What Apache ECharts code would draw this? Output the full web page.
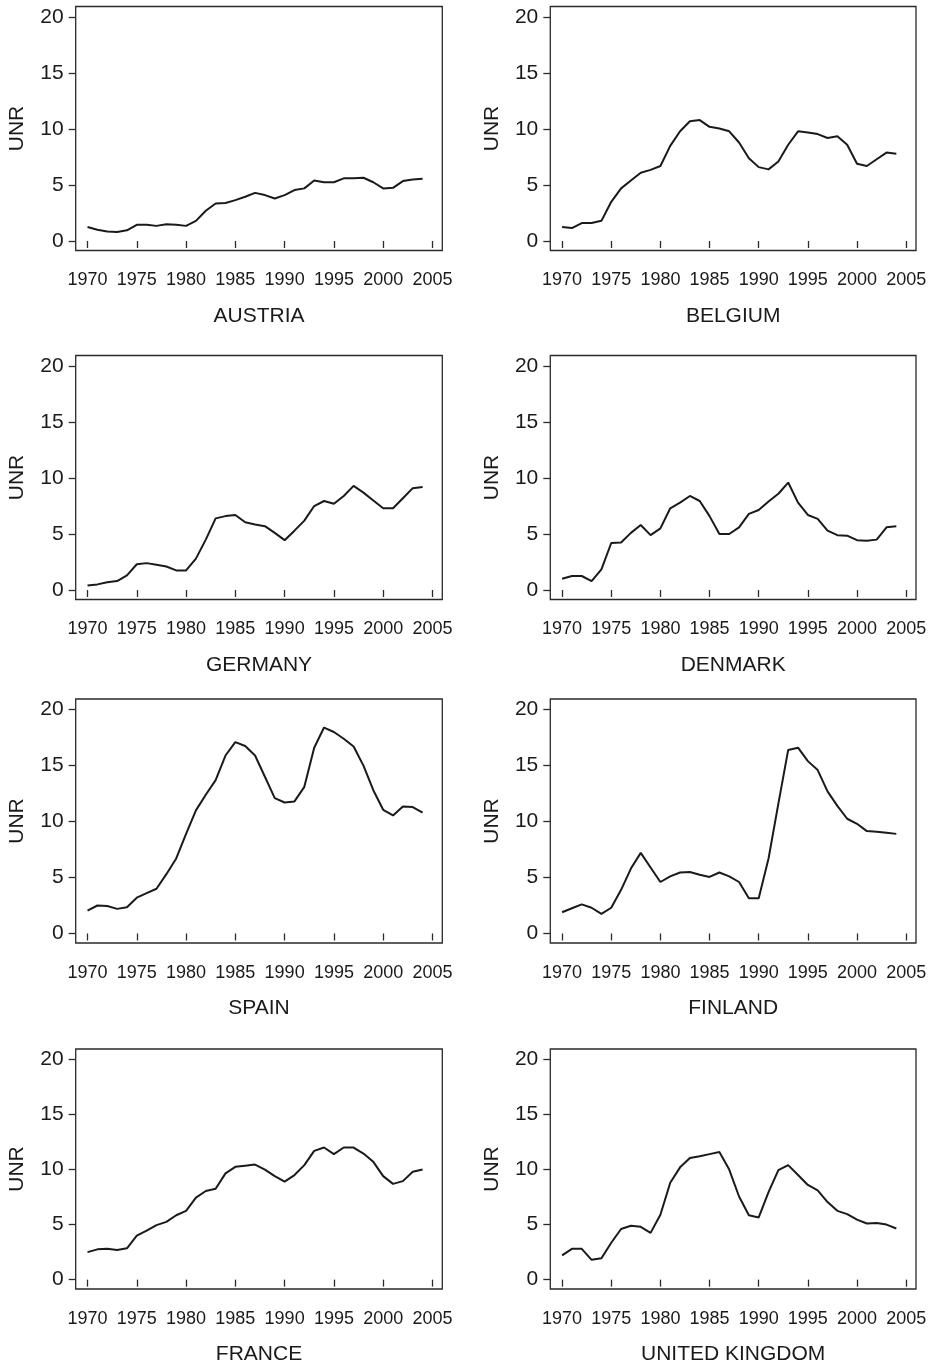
<!DOCTYPE html>
<html>
<head>
<meta charset="utf-8">
<script src="https://cdn.jsdelivr.net/npm/echarts@6/dist/echarts.min.js"></script>
<style>
html,body{margin:0;padding:0;background:#fff;}
#chart{width:932px;height:1366px;}
</style>
</head>
<body>
<div id="chart"></div>
<script>
var years = [1970,1971,1972,1973,1974,1975,1976,1977,1978,1979,1980,1981,1982,1983,1984,1985,1986,1987,1988,1989,1990,1991,1992,1993,1994,1995,1996,1997,1998,1999,2000,2001,2002,2003,2004];
var countries = ['AUSTRIA','BELGIUM','GERMANY','DENMARK','SPAIN','FINLAND','FRANCE','UNITED KINGDOM'];
var xTicks = [1970,1975,1980,1985,1990,1995,2000,2005];
var yTicks = [0,5,10,15,20];
var yAxisTitle = 'UNR';

var austria = [1.25,1.0,0.85,0.8,0.95,1.45,1.45,1.35,1.5,1.45,1.35,1.8,2.7,3.35,3.4,3.65,3.95,4.3,4.1,3.8,4.1,4.55,4.7,5.4,5.25,5.25,5.6,5.6,5.65,5.25,4.7,4.75,5.35,5.5,5.55];
var belgium = [1.25,1.15,1.6,1.6,1.8,3.5,4.7,5.4,6.1,6.35,6.7,8.5,9.8,10.7,10.8,10.2,10.05,9.8,8.8,7.4,6.6,6.4,7.1,8.6,9.8,9.7,9.55,9.2,9.35,8.6,6.9,6.7,7.3,7.9,7.8];
var germany = [0.4,0.5,0.7,0.8,1.3,2.3,2.4,2.25,2.1,1.75,1.75,2.8,4.5,6.4,6.6,6.7,6.05,5.85,5.7,5.1,4.45,5.3,6.2,7.5,7.95,7.7,8.4,9.3,8.7,8.0,7.3,7.3,8.2,9.1,9.2];
var denmark = [1.0,1.25,1.25,0.8,1.85,4.2,4.25,5.1,5.8,4.9,5.5,7.3,7.8,8.4,7.95,6.6,5.0,5.0,5.6,6.8,7.15,7.9,8.6,9.6,7.8,6.7,6.35,5.3,4.9,4.85,4.45,4.4,4.5,5.6,5.7];
var spain = [2.05,2.5,2.45,2.2,2.35,3.2,3.6,4.0,5.3,6.7,8.9,11.0,12.4,13.7,15.9,17.1,16.75,15.9,14.0,12.1,11.7,11.8,13.1,16.6,18.4,18.0,17.4,16.7,15.0,12.8,11.05,10.55,11.35,11.3,10.8];
var finland = [1.9,2.25,2.6,2.3,1.75,2.3,3.9,5.8,7.2,5.9,4.6,5.1,5.45,5.5,5.25,5.05,5.45,5.1,4.6,3.15,3.15,6.7,11.6,16.4,16.6,15.4,14.6,12.7,11.4,10.25,9.8,9.15,9.1,9.0,8.9];
var france = [2.5,2.75,2.8,2.7,2.85,4.0,4.45,4.95,5.25,5.85,6.25,7.45,8.05,8.25,9.65,10.25,10.35,10.45,10.0,9.4,8.9,9.5,10.4,11.7,12.0,11.4,12.0,12.0,11.45,10.7,9.4,8.7,8.95,9.8,10.0];
var uk = [2.2,2.8,2.8,1.8,1.95,3.35,4.6,4.9,4.8,4.25,5.9,8.8,10.2,11.05,11.2,11.4,11.6,10.0,7.55,5.85,5.65,7.95,9.95,10.4,9.5,8.6,8.1,7.05,6.25,5.95,5.45,5.1,5.15,5.0,4.65];

var seriesData = [austria,belgium,germany,denmark,spain,finland,france,uk];

var FONT = '"Liberation Sans", Arial, Helvetica, sans-serif';
var TXT = '#1a1a1a';
var rowTops = [6.5, 355.5, 699, 1049];
var colLefts = [75.7, 550.3];
var colWidths = [366.6, 365.7];
var gridH = 244;

var grids = [], xAxes = [], yAxes = [], series = [];
for (var i = 0; i < 8; i++) {
  var r = Math.floor(i / 2), c = i % 2;
  grids.push({
    left: colLefts[c], top: rowTops[r], width: colWidths[c], height: gridH,
    show: true, borderColor: '#2a2a2a', borderWidth: 1.3, backgroundColor: 'transparent'
  });
  xAxes.push({
    type: 'value', gridIndex: i, min: 1968.8, max: 2006,
    name: countries[i], nameLocation: 'middle', nameGap: 55,
    nameTextStyle: {fontFamily: FONT, fontSize: 21, color: TXT},
    axisLine: {show: false},
    axisTick: {show: true, length: 7, lineStyle: {color: '#2a2a2a', width: 1.3}, customValues: xTicks},
    axisLabel: {show: true, fontFamily: FONT, fontSize: 18, color: TXT, margin: 21, customValues: xTicks,
      formatter: function (v) { return String(v); }},
    splitLine: {show: false}
  });
  yAxes.push({
    type: 'value', gridIndex: i, min: -0.85, max: 20.95,
    name: yAxisTitle, nameLocation: 'middle', nameGap: 48, nameRotate: 90,
    nameTextStyle: {fontFamily: FONT, fontSize: 21, color: TXT},
    axisLine: {show: false},
    axisTick: {show: true, length: 7, lineStyle: {color: '#2a2a2a', width: 1.3}, customValues: yTicks},
    axisLabel: {show: true, fontFamily: FONT, fontSize: 21, color: TXT, margin: 12, customValues: yTicks},
    splitLine: {show: false}
  });
  var pts = [];
  for (var k = 0; k < years.length; k++) pts.push([years[k], seriesData[i][k]]);
  series.push({
    type: 'line', xAxisIndex: i, yAxisIndex: i, data: pts,
    showSymbol: false, symbol: 'none', smooth: false,
    lineStyle: {color: '#1a1a1a', width: 2}, animation: false
  });
}

var chart = echarts.init(document.getElementById('chart'), null, {renderer: 'canvas'});
chart.setOption({
  backgroundColor: '#ffffff',
  animation: false,
  grid: grids, xAxis: xAxes, yAxis: yAxes, series: series
});
</script>
</body>
</html>
